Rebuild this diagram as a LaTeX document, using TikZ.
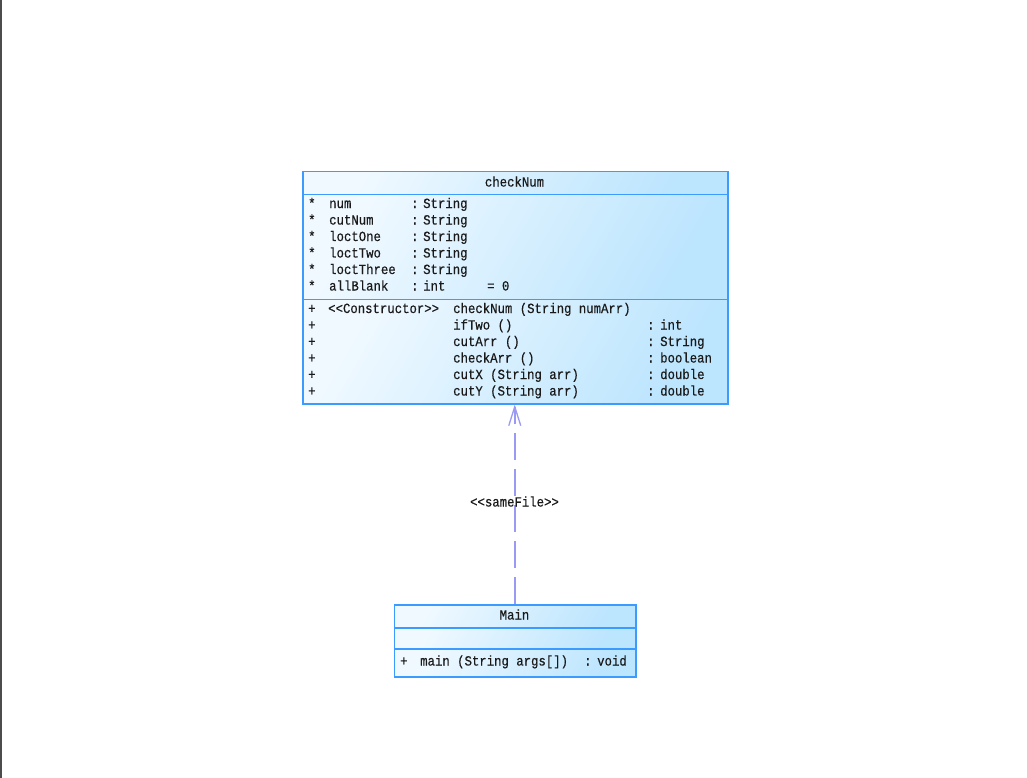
\documentclass[tikz,border=0pt]{standalone}
\usepackage{fontspec}
\newfontfamily\umlfont[FakeStretch=0.88,FakeBold=0.4]{Liberation Mono}
\usetikzlibrary{arrows.meta}
\definecolor{umlborder}{HTML}{3C9BFF}
\definecolor{umlfillA}{HTML}{F0F9FF}
\definecolor{umlfillB}{HTML}{BCE5FE}
\definecolor{depline}{HTML}{9A9AF5}
\definecolor{umltext}{HTML}{1A1A1A}
\begin{document}
\begin{tikzpicture}[x=1pt,y=-1pt,
  comp/.style={draw=umlborder, line width=1.5pt, left color=umlfillA, right color=umlfillB,
    shading angle=60, inner sep=0pt, anchor=north west, rectangle},
  txt/.style={font=\umlfont\fontsize{14}{16}\selectfont, text=umltext, inner sep=0pt, anchor=base west},
  ctxt/.style={txt, anchor=base},
  dep/.style={draw=depline, line width=1.8pt, dash pattern=on 27pt off 9pt,
    -{Straight Barb[length=19pt,width=12pt,line width=1.3pt]}}
]
\useasboundingbox (0,0) rectangle (1027,778);
\fill[white] (0,0) rectangle (1027,778);
\fill[black!70] (0,0) rectangle (2,778);

% ---- class checkNum ----
\node[comp, minimum width=425pt, minimum height=22.5pt] (cnHead) at (302,171) {};
\node[comp, minimum width=425pt, minimum height=105pt] (cnAttr) at (302,193.5) {};
\node[comp, minimum width=425pt, minimum height=104.5pt] (cnOps) at (302,298.5) {};
\node[ctxt] (cnName) at (514.5,186.5) {checkNum};

% attributes
\foreach \i/\nm/\ty [count=\k] in {0/num/String,1/cutNum/String,2/loctOne/String,3/loctTwo/String,4/loctThree/String,5/allBlank/int}{
  \pgfmathsetmacro{\yy}{208+16.5*\i}
  \node[txt] (aS\k) at (308,\yy) {*};
  \node[txt] (aN\k) at (329,\yy) {\nm};
  \node[txt] (aC\k) at (411,\yy) {:};
  \node[txt] (aT\k) at (423,\yy) {\ty};
}
\node[txt] (aInit) at (487,290.5) {= 0};

% operations
\node[txt] (oP1) at (308,313) {+};
\node[txt] (oSt) at (328,313) {<<Constructor>>};
\node[txt] (oN1) at (453,313) {checkNum (String numArr)};
\foreach \i/\nm/\ty [count=\k from 2] in {1/ifTwo ()/int,2/cutArr ()/String,3/checkArr ()/boolean,4/cutX (String arr)/double,5/cutY (String arr)/double}{
  \pgfmathsetmacro{\yy}{313+16.5*\i}
  \node[txt] (oP\k) at (308,\yy) {+};
  \node[txt] (oN\k) at (453,\yy) {\nm};
  \node[txt] (oC\k) at (647,\yy) {:};
  \node[txt] (oT\k) at (660,\yy) {\ty};
}

% ---- class Main ----
\node[comp, minimum width=241.5pt, minimum height=23pt] (mHead) at (393.5,604) {};
\node[comp, minimum width=241.5pt, minimum height=21pt] (mAttr) at (393.5,627) {};
\node[comp, minimum width=241.5pt, minimum height=28pt] (mOps) at (393.5,648) {};
\node[ctxt] (mName) at (514.5,619.5) {Main};
\node[txt] (mP) at (400,665.5) {+};
\node[txt] (mN) at (420,665.5) {main (String args[])};
\node[txt] (mC) at (584,665.5) {:};
\node[txt] (mT) at (597,665.5) {void};

% ---- dependency ----
\draw[dep] ([xshift=-0.5pt]mHead.north -| cnOps.south) -- ([xshift=-0.5pt]cnOps.south);
\node[ctxt] (depLbl) at (514.5,506.5) {<<sameFile>>};
\end{tikzpicture}
\end{document}
